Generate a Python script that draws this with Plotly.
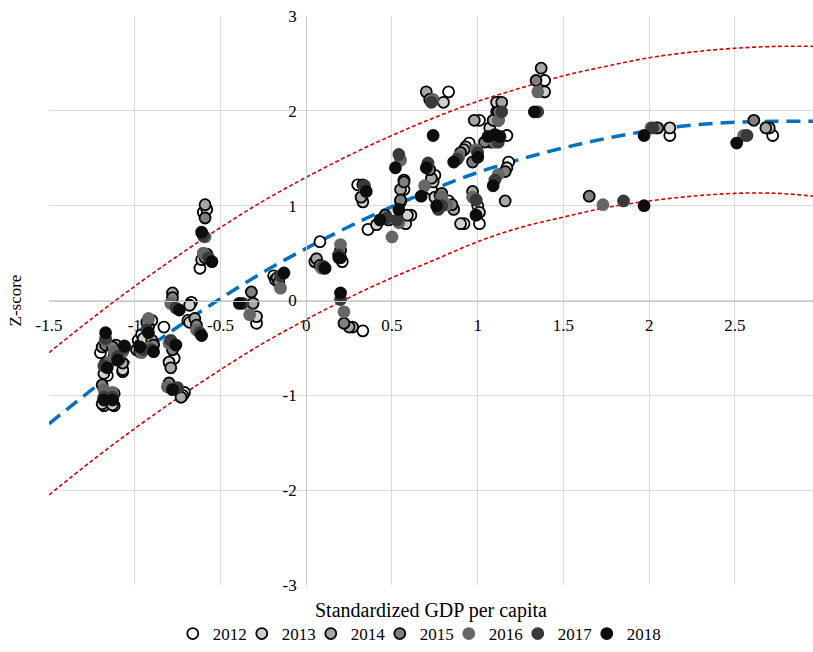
import plotly.graph_objects as go

years = ["2012", "2013", "2014", "2015", "2016", "2017", "2018"]

x_2012 = [-1.20, -1.16, -1.18, -1.12, -1.12, -1.07, -0.98, -0.83, -0.96, -0.67, -0.77, -0.71, -0.69, -0.60, -0.62,
          -0.29, -0.19, 0.08, 0.21, 0.33, 0.30, 0.36, 0.55, 0.61, 0.83, 0.75, 0.73, 0.83, 0.95, 1.00, 1.01, 1.01,
          1.12, 1.11, 1.17, 1.18, 1.39, 2.12, 2.72, 0.57, 0.92]
y_2012 = [-0.55, -0.79, -1.11, -1.11, -0.58, -0.75, -0.42, -0.28, -0.36, -0.02, -0.61, -0.97, -0.21, 0.93, 0.34,
          -0.24, 0.26, 0.62, 0.41, -0.32, 1.22, 0.75, 1.04, 0.90, 2.20, 1.32, 1.17, 1.05, 1.66, 1.00, 0.81, 1.90,
          2.09, 1.99, 1.74, 1.46, 2.32, 1.74, 1.74, 1.17, 0.81]

x_2013 = [-1.18, -1.18, -1.19, -1.13, -1.11, -1.07, -0.97, -0.90, -0.95, -0.68, -0.80, -0.72, -0.68, -0.58, -0.61,
          -0.29, -0.18, 0.05, 0.20, 0.27, 0.33, 0.41, 0.58, 0.59, 0.80, 0.74, 0.75, 0.90, 0.93, 1.01, 1.11, 1.12,
          1.07, 1.17, 1.39, 2.12, 2.70]
y_2013 = [-0.47, -0.77, -1.09, -1.10, -0.52, -0.73, -0.47, -0.21, -0.40, -0.05, -0.65, -1.00, -0.23, 0.96, 0.43,
          -0.17, 0.22, 0.41, 0.45, -0.28, 1.04, 0.80, 0.81, 0.90, 2.09, 1.25, 1.09, 0.81, 1.62, 0.93, 2.09, 1.90,
          1.82, 1.40, 2.20, 1.82, 1.82]

x_2014 = [-1.19, -1.17, -1.18, -1.13, -1.11, -1.07, -0.99, -0.92, -0.90, -0.78, -0.79, -0.73, -0.65, -0.59, -0.59,
          -0.31, -0.17, 0.06, 0.19, 0.25, 0.32, 0.48, 0.55, 0.57, 0.70, 0.73, 0.78, 0.86, 0.92, 0.97, 0.98, 1.14,
          1.09, 1.16, 1.37, 2.04, 2.68]
y_2014 = [-0.49, -0.69, -1.03, -1.03, -0.47, -0.66, -0.52, -0.28, -0.42, 0.08, -0.71, -1.02, -0.19, 1.01, 0.45,
          -0.03, 0.24, 0.44, 0.48, -0.28, 1.09, 0.85, 1.17, 1.27, 2.20, 1.29, 1.11, 0.96, 1.59, 1.15, 1.90, 2.09,
          1.90, 1.05, 2.45, 1.82, 1.82]

x_2015 = [-1.17, -1.17, -1.19, -1.12, -1.13, -1.09, -0.97, -0.93, -0.89, -0.78, -0.78, -0.80, -0.64, -0.59, -0.58,
          -0.32, -0.16, 0.08, 0.20, 0.22, 0.33, 0.46, 0.57, 0.55, 0.72, 0.72, 0.79, 0.85, 0.90, 0.99, 0.97, 1.12,
          1.08, 1.04, 1.16, 1.34, 1.65, 2.05, 2.61]
y_2015 = [-0.47, -0.66, -0.89, -0.98, -0.49, -0.61, -0.54, -0.23, -0.47, 0.03, -0.52, -0.87, -0.26, 0.87, 0.49,
          0.09, 0.19, 0.37, 0.53, -0.24, 1.22, 0.90, 1.25, 1.06, 2.12, 1.38, 1.13, 1.01, 1.56, 1.06, 1.46, 1.99,
          1.67, 1.67, 1.36, 2.32, 1.10, 1.82, 1.90]

x_2016 = [-1.17, -1.15, -1.18, -1.13, -1.12, -1.07, -0.96, -0.92, -0.92, -0.79, -0.80, -0.81, -0.64, -0.59, -0.60,
          -0.33, -0.15, 0.09, 0.20, 0.22, 0.34, 0.50, 0.54, 0.55, 0.74, 0.69, 0.79, 0.82, 0.89, 0.97, 0.99, 1.12,
          1.10, 1.12, 1.35, 1.73, 2.01, 2.55]
y_2016 = [-0.42, -0.65, -0.94, -0.97, -0.54, -0.54, -0.55, -0.19, -0.50, -0.03, -0.45, -0.91, -0.31, 0.67, 0.50,
          -0.15, 0.13, 0.34, 0.59, -0.12, 1.19, 0.67, 0.82, 1.48, 2.12, 1.21, 1.09, 1.01, 1.52, 1.09, 1.59, 1.90,
          1.67, 1.33, 2.20, 1.01, 1.82, 1.74]

x_2017 = [-1.17, -1.18, -1.18, -1.13, -1.10, -1.06, -0.95, -0.93, -0.90, -0.76, -0.79, -0.75, -0.62, -0.60, -0.57,
          -0.37, -0.15, 0.10, 0.19, 0.20, 0.34, 0.47, 0.53, 0.54, 0.73, 0.71, 0.77, 0.79, 0.88, 0.99, 1.00, 1.14,
          1.12, 1.10, 1.35, 1.85, 2.02, 2.57]
y_2017 = [-0.40, -0.69, -1.02, -1.02, -0.59, -0.50, -0.52, -0.31, -0.52, -0.08, -0.42, -0.92, -0.34, 0.68,
          0.45, -0.03, 0.26, 0.36, 0.48, 0.01, 1.21, 0.87, 0.85, 1.54, 2.09, 1.45, 0.96, 1.00, 1.49, 1.06, 1.56,
          1.99, 1.67, 1.27, 1.99, 1.05, 1.82, 1.74]

x_2018 = [-1.17, -1.16, -1.18, -1.13, -1.10, -1.06, -0.97, -0.92, -0.89, -0.74, -0.76, -0.78, -0.61, -0.61, -0.55,
          -0.39, -0.13, 0.11, 0.19, 0.20, 0.35, 0.43, 0.54, 0.52, 0.74, 0.70, 0.67, 0.76, 0.86, 0.99, 1.00, 1.10,
          1.13, 1.06, 1.09, 1.33, 1.97, 1.97, 2.51]
y_2018 = [-0.34, -0.71, -1.05, -1.05, -0.63, -0.48, -0.49, -0.34, -0.54, -0.10, -0.47, -0.94, -0.37, 0.72, 0.41,
          -0.03, 0.29, 0.34, 0.45, 0.08, 1.15, 0.85, 0.96, 1.40, 1.74, 1.40, 1.10, 1.00, 1.46, 0.90, 1.51, 1.75,
          1.73, 1.73, 1.21, 1.99, 1.00, 1.74, 1.66]

# fitted curve and band
curve_x = [-1.5, -1.25, -1.0, -0.75, -0.5, -0.25, 0.0, 0.25, 0.5, 0.75, 1.0, 1.25, 1.5, 1.75, 2.0, 2.25, 2.5,
           2.75, 2.96]
fit_y = [-1.30, -0.94, -0.60, -0.28, 0.02, 0.30, 0.55, 0.78, 0.99, 1.18, 1.35, 1.49, 1.61, 1.71, 1.79, 1.85,
         1.88, 1.89, 1.89]
upper_y = [-0.55, -0.19, 0.15, 0.47, 0.77, 1.05, 1.30, 1.53, 1.74, 1.93, 2.10, 2.24, 2.37, 2.47, 2.56, 2.62,
           2.66, 2.68, 2.68]
lower_y = [-2.05, -1.69, -1.35, -1.03, -0.73, -0.45, -0.20, 0.03, 0.24, 0.43, 0.62, 0.77, 0.88, 0.98, 1.05,
           1.10, 1.13, 1.13, 1.10]

x_ticks = [-1.5, -1.0, -0.5, 0.0, 0.5, 1.0, 1.5, 2.0, 2.5]
x_tick_text = ["-1.5", "-1", "-0.5", "0", "0.5", "1", "1.5", "2", "2.5"]
y_ticks = [-3, -2, -1, 0, 1, 2, 3]
y_tick_text = ["-3", "-2", "-1", "0", "1", "2", "3"]

xs = [x_2012, x_2013, x_2014, x_2015, x_2016, x_2017, x_2018]
ys = [y_2012, y_2013, y_2014, y_2015, y_2016, y_2017, y_2018]
fills = ["#ffffff", "#d0d0d0", "#a6a6a6", "#7f7f7f", "#666666", "#3a3a3a", "#0d0d0d"]
outlines = ["#000000", "#000000", "#000000", "#000000", "#666666", "#3a3a3a", "#0d0d0d"]

FONT = "Liberation Serif"

fig = go.Figure()

fig.add_trace(go.Scatter(x=curve_x, y=upper_y, mode="lines", line=dict(color="#d40000", width=1.6, dash="4px,2.5px",
                                                                        shape="spline"),
                         showlegend=False, hoverinfo="skip"))
fig.add_trace(go.Scatter(x=curve_x, y=lower_y, mode="lines", line=dict(color="#d40000", width=1.6, dash="4px,2.5px",
                                                                        shape="spline"),
                         showlegend=False, hoverinfo="skip"))
fig.add_trace(go.Scatter(x=curve_x, y=fit_y, mode="lines", line=dict(color="#0070c0", width=3.5, dash="14px,8px",
                                                                      shape="spline"),
                         showlegend=False, hoverinfo="skip"))

for yr, xv, yv, fc, oc in zip(years, xs, ys, fills, outlines):
    fig.add_trace(go.Scatter(x=xv, y=yv, mode="markers", name=yr,
                             marker=dict(size=11, color=fc, line=dict(color=oc, width=1.8))))

# blank spacer entry so the last legend label is not clipped
fig.add_trace(go.Scatter(x=[None], y=[None], mode="markers", name=" ",
                         marker=dict(size=1, color="rgba(0,0,0,0)"), hoverinfo="skip"))

H = 652
TOP = 16
BOTTOM_MARGIN = 38
PLOT_BOTTOM = 585
area_bottom = H - BOTTOM_MARGIN
area_h = area_bottom - TOP
y_dom0 = (area_bottom - PLOT_BOTTOM) / area_h
y_zero_paper = y_dom0 + (1 - y_dom0) * 0.5

grid = "#d9d9d9"
fig.update_layout(
    template="none",
    width=813, height=H,
    margin=dict(l=49, r=0, t=TOP, b=BOTTOM_MARGIN),
    paper_bgcolor="white", plot_bgcolor="white",
    font=dict(family=FONT, size=17, color="#000000"),
    xaxis=dict(range=[-1.5, 2.955], tickvals=x_ticks, ticktext=x_tick_text, showgrid=True, gridcolor=grid,
               gridwidth=1.3, zeroline=False, anchor="free", position=y_zero_paper, showline=True,
               linecolor="#c8c8c8", linewidth=1.3, ticks="outside", ticklen=9, tickcolor="rgba(0,0,0,0)",
               tickfont=dict(family=FONT, size=17), automargin=False),
    yaxis=dict(range=[-3, 3], domain=[y_dom0, 1], tickvals=y_ticks, ticktext=y_tick_text, showgrid=True,
               gridcolor=grid, gridwidth=1.3, zeroline=False, anchor="free", position=1.5 / 4.455,
               showline=True, linecolor="#c8c8c8", linewidth=1.3, ticks="outside", ticklen=6,
               tickcolor="rgba(0,0,0,0)", tickfont=dict(family=FONT, size=17), automargin=False),
    legend=dict(orientation="h", x=0.162, xanchor="left", y=0.0, yref="container", yanchor="bottom",
                font=dict(family=FONT, size=17), entrywidth=24, entrywidthmode="pixels",
                itemwidth=30, traceorder="normal", bgcolor="rgba(0,0,0,0)"),
    annotations=[
        dict(text="Standardized GDP per capita", xref="paper", yref="paper", x=0.5,
             y=(area_bottom - 610) / area_h, xanchor="center", yanchor="middle", showarrow=False,
             font=dict(family=FONT, size=20)),
        dict(text="Z-score", xref="paper", yref="paper", x=-0.0445, y=y_zero_paper, textangle=-90,
             xanchor="center", yanchor="middle", showarrow=False, font=dict(family=FONT, size=17)),
    ],
)

fig.write_html("out.html")
